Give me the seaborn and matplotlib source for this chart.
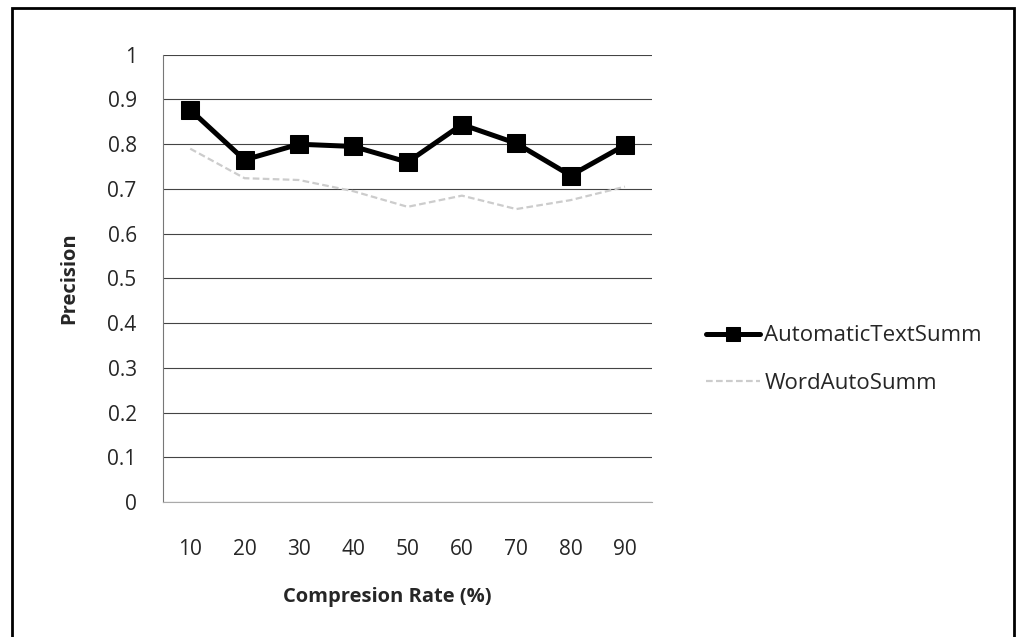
import matplotlib
matplotlib.use("Agg")
import matplotlib.pyplot as plt
import seaborn as sns
import pandas as pd
from matplotlib.patches import Rectangle

categories = ["10", "20", "30", "40", "50", "60", "70", "80", "90"]
auto_text_summ = [0.877, 0.765, 0.800, 0.795, 0.760, 0.844, 0.802, 0.730, 0.798]
word_auto_summ = [0.790, 0.724, 0.720, 0.695, 0.660, 0.685, 0.655, 0.675, 0.705]
y_ticks = [0, 0.1, 0.2, 0.3, 0.4, 0.5, 0.6, 0.7, 0.8, 0.9, 1]
y_tick_labels = ["0", "0.1", "0.2", "0.3", "0.4", "0.5", "0.6", "0.7", "0.8", "0.9", "1"]

df = pd.DataFrame({
    "rate": categories * 2,
    "precision": auto_text_summ + word_auto_summ,
    "series": ["AutomaticTextSumm"] * 9 + ["WordAutoSumm"] * 9,
})

sns.set_style("white")
plt.rcParams["font.family"] = ["Open Sans", "DejaVu Sans"]

fig = plt.figure(figsize=(10.19, 6.37), dpi=100)
ax = fig.add_axes([0.160, 0.212, 0.480, 0.702])

sns.lineplot(data=df[df.series == "WordAutoSumm"], x="rate", y="precision",
             color="#cccccc", linewidth=1.6, linestyle=(0, (3, 1.5)), ax=ax,
             label="WordAutoSumm", sort=False)
sns.lineplot(data=df[df.series == "AutomaticTextSumm"], x="rate", y="precision",
             color="black", linewidth=3.6, marker="s", markersize=13,
             markeredgecolor="black", ax=ax, label="AutomaticTextSumm", sort=False)

ax.set_ylim(0, 1)
ax.set_xlim(-0.5, 8.5)
ax.set_yticks(y_ticks)
ax.set_yticklabels(y_tick_labels, fontsize=15)
ax.set_xticks(range(len(categories)))
ax.set_xticklabels(categories, fontsize=15)
ax.tick_params(axis="y", pad=19, length=0)
ax.tick_params(axis="x", pad=27, length=0)
ax.yaxis.grid(True, color="#444444", linewidth=0.8)
ax.set_axisbelow(True)
for s in ["top", "right"]:
    ax.spines[s].set_visible(False)
ax.spines["left"].set_color("#777777")
ax.spines["left"].set_linewidth(0.8)
ax.spines["bottom"].set_color("#aaaaaa")
ax.spines["bottom"].set_linewidth(0.8)

ax.set_xlabel("Compresion Rate (%)", fontsize=14.5, fontweight="bold")
ax.xaxis.set_label_coords(0.458, -0.19)
ax.set_ylabel("Precision", fontsize=14.5, fontweight="bold")
ax.yaxis.set_label_coords(-0.172, 0.5)

handles, labels = ax.get_legend_handles_labels()
order = [labels.index("AutomaticTextSumm"), labels.index("WordAutoSumm")]
leg = ax.legend([handles[i] for i in order], [labels[i] for i in order],
                loc="center left", bbox_to_anchor=(1.07, 0.318), frameon=False,
                fontsize=16, handlelength=2.4, handletextpad=0.2, labelspacing=1.2,
                markerscale=0.75)

fig.add_artist(Rectangle((0.012, -0.01), 0.983, 0.998, transform=fig.transFigure,
                         fill=False, edgecolor="black", linewidth=2))

fig.savefig("out.png", dpi=100, facecolor="white")
